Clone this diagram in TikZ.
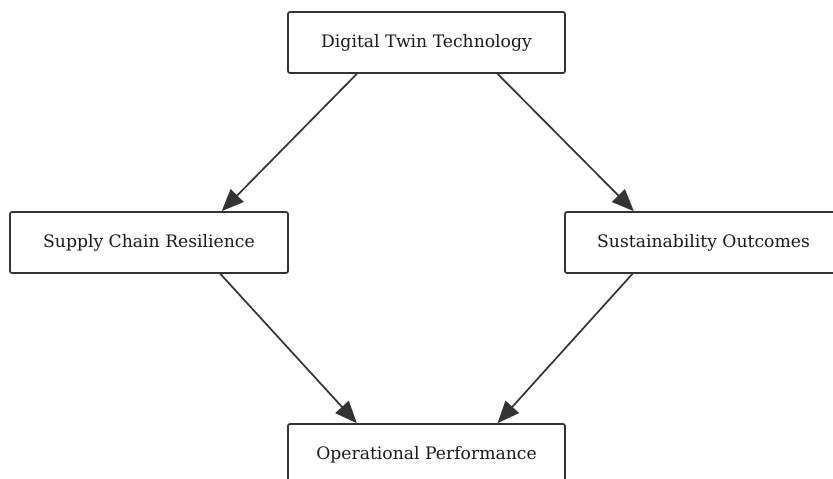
\documentclass[tikz,border=0pt]{standalone}
\usepackage{fontspec}
\setmainfont{DejaVu Serif}
\usetikzlibrary{arrows.meta, calc}
\definecolor{linegray}{HTML}{333333}
\definecolor{textgray}{HTML}{1A1A1A}
\tikzstyle{block}=[draw=linegray,line width=1.7pt,rounded corners=2pt,fill=white,rectangle,minimum width=277pt,minimum height=61pt,text=textgray]
\tikzstyle{every node}=[font=\fontsize{17.2}{20}\selectfont]
\tikzstyle{link}=[->,draw=linegray,line width=1.7pt]

\begin{document}
\begin{tikzpicture}[x=1pt,y=-1pt,>={Triangle[length=22pt,width=18pt]}]
    \useasboundingbox (0,0) rectangle (833,479);
    \clip (0,0) rectangle (833,479);
    \node[block] (dt) at (426.5,42.5) {Digital Twin Technology};
    \node[block, minimum width=278pt] (sc) at (149,242.5) {Supply Chain Resilience};
    \node[block] (so) at (703.5,242.5) {Sustainability Outcomes};
    \node[block] (op) at (426.5,454.5) {Operational Performance};
    \draw[link] ($(dt.south west)!0.25!(dt.south east)$) -- ($(sc.north west)!0.76!(sc.north east)$);
    \draw[link] ($(dt.south west)!0.755!(dt.south east)$) -- ($(so.north west)!0.25!(so.north east)$);
    \draw[link] ($(sc.south west)!0.755!(sc.south east)$) -- ($(op.north west)!0.25!(op.north east)$);
    \draw[link] ($(so.south west)!0.245!(so.south east)$) -- ($(op.north west)!0.755!(op.north east)$);
\end{tikzpicture}
\end{document}
